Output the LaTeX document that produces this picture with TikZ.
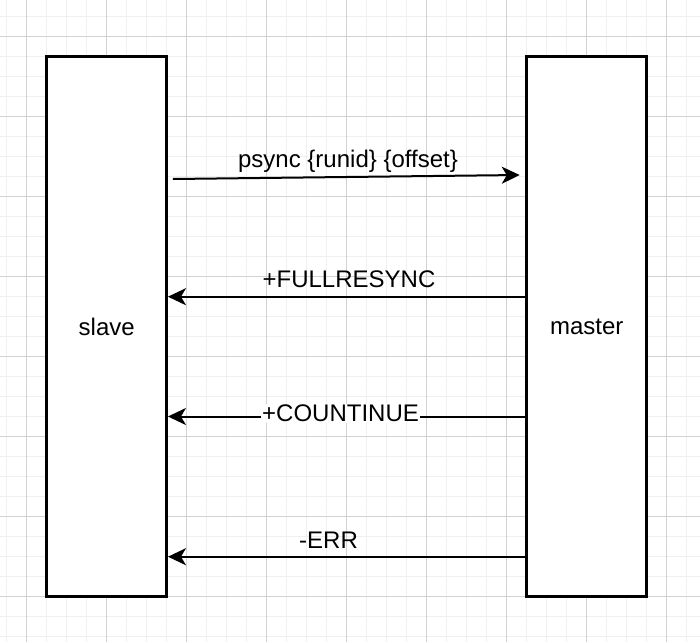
\documentclass[tikz,border=0pt]{standalone}
\usepackage{fontspec}
\setmainfont{Liberation Sans}
\usetikzlibrary{arrows.meta}
\definecolor{minorgrid}{HTML}{F0F0F0}
\definecolor{majorgrid}{HTML}{D2D2D2}
\begin{document}
\begin{tikzpicture}[x=1pt,y=-1pt,
  actor/.style={draw=black,line width=2.5pt,fill=white,minimum width=120pt,minimum height=540pt,inner sep=0pt,font=\fontsize{24}{28}\selectfont},
  msg/.style={line width=2pt,-{Stealth[length=18pt,width=17pt,inset=5pt]}},
  lbl/.style={anchor=base,inner sep=1pt,font=\fontsize{24}{28}\selectfont}]
\useasboundingbox (0,0) rectangle (700,642);
\fill[white] (0,0) rectangle (700,642);
\foreach \i in {0,...,34} \draw[minorgrid,line width=1.3pt] (6.7+20*\i,0) -- (6.7+20*\i,642);
\foreach \i in {0,...,31} \draw[minorgrid,line width=1.3pt] (0,16.7+20*\i) -- (700,16.7+20*\i);
\foreach \i in {0,...,8} \draw[majorgrid,line width=0.9pt] (26.7+80*\i,0) -- (26.7+80*\i,642);
\foreach \i in {0,...,7} \draw[majorgrid,line width=0.9pt] (0,36.7+80*\i) -- (700,36.7+80*\i);
\node[actor] (slave) at (106.7,326.7) {slave};
\node[actor] (master) at (586.7,326.7) {master};
\draw[msg] ([xshift=5pt,yshift=147.7pt]slave.east) -- ([xshift=-5.7pt,yshift=151.7pt]master.west);
\draw[msg] ([yshift=30pt]master.west) -- ([yshift=30pt]slave.east);
\draw[msg] ([yshift=-89.8pt]master.west) -- ([yshift=-89.8pt]slave.east);
\draw[msg] ([yshift=-230pt]master.west) -- ([yshift=-230pt]slave.east);
\node[lbl] (l1) at (348,167.3) {psync \{runid\} \{offset\}};
\node[lbl] (l2) at (349,287.3) {+FULLRESYNC};
\node[lbl,fill=white] (l3) at (340.5,421.7) {+COUNTINUE};
\node[lbl] (l4) at (328.5,548.3) {-ERR};
\end{tikzpicture}
\end{document}
